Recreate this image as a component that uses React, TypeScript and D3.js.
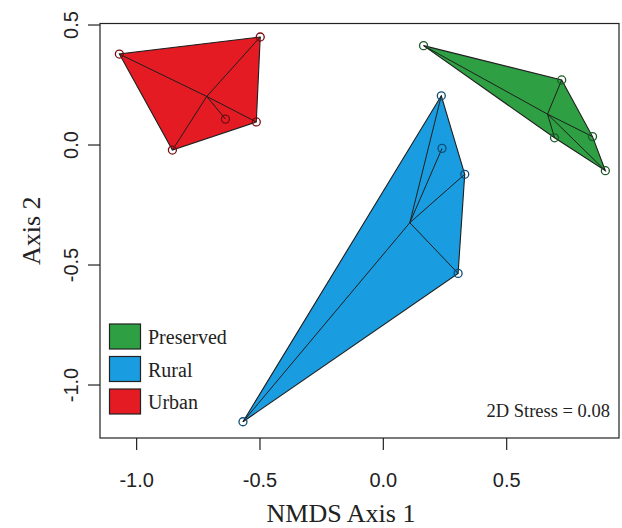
import React from "react";
import * as d3 from "d3";

const groups = ["Preserved", "Rural", "Urban"];
const groupColors = ["#2ea043", "#1a9de0", "#e41b23"];
const groupDark = ["#1a5c25", "#0d4f78", "#7a0c10"];

const preservedX = [0.163, 0.723, 0.848, 0.9, 0.694];
const preservedY = [0.414, 0.271, 0.035, -0.107, 0.03];
const ruralX = [0.235, 0.238, 0.33, 0.303, -0.569];
const ruralY = [0.205, -0.014, -0.122, -0.535, -1.153];
const urbanX = [-1.07, -0.499, -0.515, -0.855, -0.64];
const urbanY = [0.379, 0.45, 0.096, -0.021, 0.108];

const xTicks = [-1.0, -0.5, 0.0, 0.5];
const yTicks = [-1.0, -0.5, 0.0, 0.5];
const stressLabel = "2D Stress = 0.08";

const W = 622;
const H = 528;
const L = 100, R = 619, T = 23.5, B = 438;

export default function App() {
  const x = d3.scaleLinear().domain([-1.1485, 0.9553]).range([L, R]);
  const y = d3.scaleLinear().domain([0.5063, -1.2208]).range([T, B]);

  const data = [
    { xs: preservedX, ys: preservedY },
    { xs: ruralX, ys: ruralY },
    { xs: urbanX, ys: urbanY },
  ];
  const line = d3.line();

  return (
    <svg width={W} height={H} style={{ position: "absolute", left: 0, top: 0, background: "#fff" }}>
      <rect x={0} y={0} width={W} height={H} fill="#fff" />
      {data.map((g, gi) => {
        const pts: [number, number][] = g.xs.map((v, i) => [x(v), y(g.ys[i])]);
        const hull = d3.polygonHull(pts) || pts;
        const cx = x(d3.mean(g.xs) as number);
        const cy = y(d3.mean(g.ys) as number);
        return (
          <g key={gi}>
            <path d={line(hull as [number, number][]) + "Z"} fill={groupColors[gi]} stroke="#1e1e1e" strokeWidth={1.1} />
            {pts.map((p, i) => (
              <line key={i} x1={cx} y1={cy} x2={p[0]} y2={p[1]} stroke="#1e1e1e" strokeWidth={1} />
            ))}
            {pts.map((p, i) => (
              <circle key={"c" + i} cx={p[0]} cy={p[1]} r={4} fill="none" stroke={groupDark[gi]} strokeWidth={1.3} />
            ))}
          </g>
        );
      })}
      <rect x={L} y={T} width={R - L} height={B - T} fill="none" stroke="#222" strokeWidth={1.2} />
      {xTicks.map((t) => (
        <g key={"x" + t}>
          <line x1={x(t)} x2={x(t)} y1={B} y2={B + 12} stroke="#222" strokeWidth={1.2} />
          <text x={x(t)} y={487} textAnchor="middle" fontFamily="Liberation Sans, Arial, sans-serif" fontSize={20} fill="#222">
            {t.toFixed(1)}
          </text>
        </g>
      ))}
      {yTicks.map((t) => (
        <g key={"y" + t}>
          <line x1={L - 12} x2={L} y1={y(t)} y2={y(t)} stroke="#222" strokeWidth={1.2} />
          <text transform={`translate(78,${y(t)}) rotate(-90)`} textAnchor="middle" fontFamily="Liberation Sans, Arial, sans-serif" fontSize={20} fill="#222">
            {t.toFixed(1)}
          </text>
        </g>
      ))}
      <text x={341} y={522} textAnchor="middle" fontFamily="Liberation Serif, Times New Roman, serif" fontSize={26} fill="#222">
        NMDS Axis 1
      </text>
      <text transform={`translate(40,${(T + B) / 2}) rotate(-90)`} textAnchor="middle" fontFamily="Liberation Serif, Times New Roman, serif" fontSize={26} fill="#222">
        Axis 2
      </text>
      {groups.map((gName, i) => (
        <g key={gName}>
          <rect x={109.5} y={324 + i * 32.5} width={31} height={25} fill={groupColors[i]} stroke="#222" strokeWidth={1.2} />
          <text x={148} y={344 + i * 32.5} fontFamily="Liberation Serif, Times New Roman, serif" fontSize={20} fill="#222">
            {gName}
          </text>
        </g>
      ))}
      <text x={610} y={417} textAnchor="end" fontFamily="Liberation Serif, Times New Roman, serif" fontSize={18.5} fill="#222">
        {stressLabel}
      </text>
    </svg>
  );
}
